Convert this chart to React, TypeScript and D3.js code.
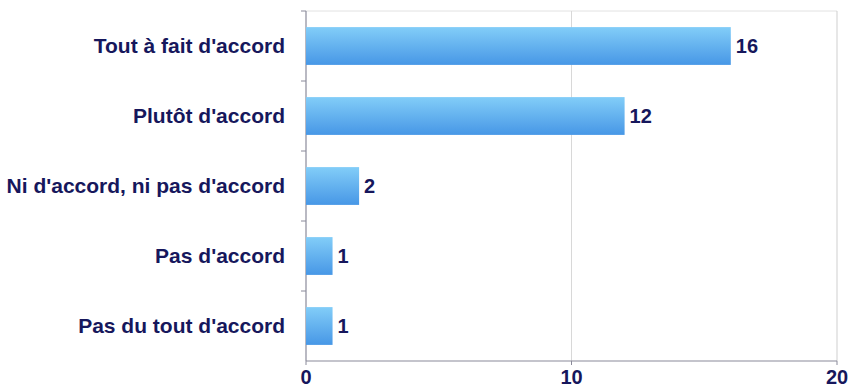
import React from "react";
import * as d3 from "d3";

const categories = [
  "Tout à fait d'accord",
  "Plutôt d'accord",
  "Ni d'accord, ni pas d'accord",
  "Pas d'accord",
  "Pas du tout d'accord",
];
const values = [16, 12, 2, 1, 1];
const xTicks = [0, 10, 20];

const W = 848;
const H = 390;
const M = { left: 306, right: 11, top: 11, bottom: 29 };

export default function App() {
  const x = d3.scaleLinear().domain([0, 20]).range([M.left, W - M.right]);
  const y = d3
    .scaleBand<string>()
    .domain(categories)
    .range([M.top, H - M.bottom])
    .paddingInner(0.46)
    .paddingOuter(0.23);
  const step = y.step();
  const bottom = H - M.bottom;
  const navy = "#16175c";
  const font = "'Liberation Sans', Arial, sans-serif";

  return (
    <svg
      width={W}
      height={H}
      style={{ position: "absolute", left: 0, top: 0, background: "#fff" }}
    >
      <defs>
        <linearGradient id="barGrad" x1="0" y1="0" x2="0" y2="1">
          <stop offset="0%" stopColor="#82cdf8" />
          <stop offset="100%" stopColor="#4797e6" />
        </linearGradient>
      </defs>
      {/* plot frame */}
      <line x1={M.left} x2={W - M.right} y1={M.top} y2={M.top} stroke="#e2e2e2" />
      <line x1={W - M.right} x2={W - M.right} y1={M.top} y2={bottom} stroke="#cfcfcf" />
      {xTicks.slice(1, -1).map((t) => (
        <line key={t} x1={x(t)} x2={x(t)} y1={M.top} y2={bottom} stroke="#d8d8d8" />
      ))}
      {/* left axis */}
      <line x1={M.left} x2={M.left} y1={M.top} y2={bottom} stroke="#8a8a9a" strokeWidth={1.2} />
      {categories.map((c, i) => (
        <line
          key={c}
          x1={M.left - 5}
          x2={M.left}
          y1={M.top + i * step}
          y2={M.top + i * step}
          stroke="#8a8a9a"
        />
      ))}
      {/* bottom axis */}
      <line x1={M.left} x2={W - M.right} y1={bottom} y2={bottom} stroke="#8a8a9a" strokeWidth={1.2} />
      {xTicks.map((t) => (
        <g key={t}>
          <line x1={x(t)} x2={x(t)} y1={bottom} y2={bottom + 4} stroke="#8a8a9a" />
          <text
            x={x(t)}
            y={bottom + 23}
            textAnchor="middle"
            fontFamily={font}
            fontWeight="bold"
            fontSize={20}
            fill={navy}
          >
            {t}
          </text>
        </g>
      ))}
      {/* bars */}
      {categories.map((c, i) => (
        <g key={c}>
          <rect
            x={x(0)}
            y={y(c)!}
            width={x(values[i]) - x(0)}
            height={y.bandwidth()}
            fill="url(#barGrad)"
          />
          <text
            x={x(values[i]) + 5}
            y={y(c)! + y.bandwidth() / 2}
            dy="0.35em"
            fontFamily={font}
            fontWeight="bold"
            fontSize={20}
            fill={navy}
          >
            {values[i]}
          </text>
          <text
            x={M.left - 21}
            y={y(c)! + y.bandwidth() / 2}
            dy="0.35em"
            textAnchor="end"
            fontFamily={font}
            fontWeight="bold"
            fontSize={21}
            fill={navy}
          >
            {c}
          </text>
        </g>
      ))}
    </svg>
  );
}
